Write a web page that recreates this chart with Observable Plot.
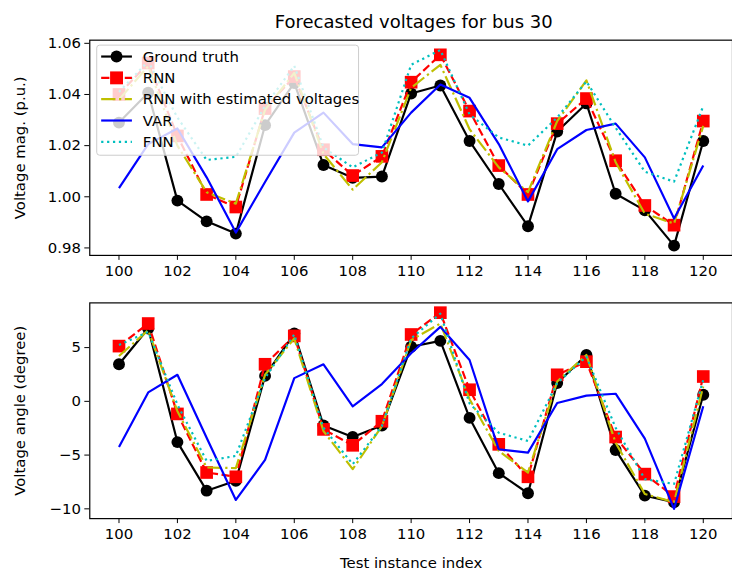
<!DOCTYPE html>
<html>
<head>
<meta charset="utf-8">
<script src="https://cdn.jsdelivr.net/npm/d3@7"></script>
<script src="https://cdn.jsdelivr.net/npm/@observablehq/plot@0.6"></script>
<style>
  html, body { margin: 0; padding: 0; background: white; }
  #wrap { position: relative; width: 732px; height: 573px; overflow: hidden; font-family: "DejaVu Sans", sans-serif; }
  #title { position: absolute; left: 90px; width: 647.5px; top: 10px; text-align: center; font-size: 18px; line-height: 24px; }
  .panel { position: absolute; left: 0; }
</style>
</head>
<body>
<div id="wrap">
  <div id="title">Forecasted voltages for bus 30</div>
</div>
<script>
// ---- data ----
const idx = [100, 101, 102, 103, 104, 105, 106, 107, 108, 109, 110, 111, 112, 113, 114, 115, 116, 117, 118, 119, 120];
const xTicks = [100, 102, 104, 106, 108, 110, 112, 114, 116, 118, 120];
const magTicks = [0.98, 1.00, 1.02, 1.04, 1.06];
const angTicks = [-10, -5, 0, 5];
const seriesNames = ["Ground truth", "RNN", "RNN with estimated voltages", "VAR", "FNN"];

const gtMag     = [1.029, 1.0407, 0.9985, 0.9904, 0.9856, 1.028, 1.0445, 1.0124, 1.0074, 1.0079, 1.0404, 1.0435, 1.0218, 1.005, 0.9885, 1.0255, 1.0365, 1.0012, 0.9947, 0.9809, 1.0218];
const rnnMag    = [1.040, 1.0523, 1.0238, 1.0009, 0.996, 1.0345, 1.047, 1.0184, 1.0083, 1.0158, 1.0448, 1.0555, 1.0335, 1.0122, 1.0009, 1.0286, 1.0384, 1.0141, 0.9966, 0.9889, 1.0296];
const rnnEstMag = [1.038, 1.051, 1.020, 1.0018, 0.9973, 1.034, 1.0484, 1.0167, 1.0028, 1.0135, 1.0426, 1.0516, 1.0264, 1.0115, 1.0018, 1.0296, 1.0455, 1.0135, 0.9934, 0.9895, 1.0277];
const varMag    = [1.0034, 1.0206, 1.0267, 1.0076, 0.986, 1.0058, 1.0251, 1.0329, 1.0206, 1.0193, 1.0329, 1.0439, 1.0387, 1.0206, 0.9982, 1.0186, 1.0261, 1.0286, 1.0154, 0.9915, 1.0122];
const fnnMag    = [1.041, 1.053, 1.031, 1.0144, 1.0156, 1.0355, 1.0512, 1.0193, 1.0115, 1.0173, 1.0516, 1.0574, 1.0322, 1.0232, 1.020, 1.031, 1.0451, 1.027, 1.0098, 1.0059, 1.0355];

const gtAng     = [3.45, 6.78, -3.79, -8.31, -7.39, 2.37, 6.31, -2.24, -3.32, -2.24, 5.08, 5.63, -1.54, -6.68, -8.55, 1.70, 4.31, -4.52, -8.77, -9.38, 0.62];
const rnnAng    = [5.14, 7.24, -1.17, -6.62, -7.02, 3.45, 6.09, -2.61, -4.09, -1.85, 6.22, 8.25, 1.08, -4.00, -7.02, 2.47, 3.69, -3.32, -6.77, -8.86, 2.31];
const rnnEstAng = [4.22, 6.62, -0.92, -6.15, -6.21, 2.47, 5.85, -2.77, -6.31, -2.31, 5.70, 7.24, 0.2, -4.62, -6.62, 1.85, 4.31, -3.85, -8.62, -9.38, 1.39];
const varAng    = [-4.25, 0.83, 2.47, -3.38, -9.17, -5.45, 2.16, 3.45, -0.46, 1.61, 4.47, 6.93, 3.85, -4.46, -4.77, -0.15, 0.53, 0.71, -3.47, -10.0, -0.46];
const fnnAng    = [5.24, 6.46, -0.3, -5.54, -5.08, 2.16, 6.22, -2.46, -5.85, -2.31, 5.85, 8.16, -0.2, -2.92, -3.69, 1.70, 4.16, -2.46, -7.23, -7.69, 2.0];

// ---- styles ----
const styles = [
  {color: "#000000", dash: null, marker: "circle"},
  {color: "#ff0000", dash: "8.3,3.6", marker: "square"},
  {color: "#bfbf00", dash: "14.4,3.6,2.25,3.6", marker: null},
  {color: "#0000ff", dash: null, marker: null},
  {color: "#00bfbf", dash: "2.25,3.7", marker: null}
];
const LW = 2.2;

function seriesMarks(valuesList) {
  const marks = [];
  valuesList.forEach((vals, i) => {
    const data = idx.map((x, j) => ({x, y: vals[j]}));
    const s = styles[i];
    marks.push(Plot.line(data, {x: "x", y: "y", stroke: s.color, strokeWidth: LW, strokeDasharray: s.dash, strokeLinejoin: "round", strokeLinecap: "butt"}));
    if (s.marker === "circle") marks.push(Plot.dot(data, {x: "x", y: "y", r: 6, fill: s.color, stroke: "none", symbol: "circle"}));
    if (s.marker === "square") marks.push(Plot.dot(data, {x: "x", y: "y", r: 7.2, fill: s.color, stroke: "none", symbol: "square"}));
  });
  return marks;
}

function panel({yDomain, yTicks, yFmt, values, ylabel, xlabel, height, mt, mb}) {
  return Plot.plot({
    width: 738, height, marginLeft: 90, marginRight: 0, marginTop: mt, marginBottom: mb,
    style: {fontFamily: "DejaVu Sans", fontSize: "15px", color: "black", background: "transparent", overflow: "visible"},
    x: {domain: [99, 121]},
    y: {domain: yDomain},
    marks: [
      Plot.axisX({ticks: xTicks, tickSize: 5, tickPadding: 5, tickFormat: d => String(d),
        label: xlabel, labelAnchor: "center", labelArrow: "none", labelOffset: 50, fontSize: 15}),
      Plot.axisY({ticks: yTicks, tickSize: 5, tickPadding: 4, tickFormat: yFmt,
        label: ylabel, labelAnchor: "center", labelArrow: "none", labelOffset: 76, fontSize: 15}),
      ...seriesMarks(values),
      Plot.frame({stroke: "black", strokeWidth: 1.2})
    ]
  });
}

const wrap = document.getElementById("wrap");

const topPanel = panel({
  yDomain: [0.97708, 1.06123], yTicks: magTicks, yFmt: d3.format(".2f"),
  values: [gtMag, rnnMag, rnnEstMag, varMag, fnnMag],
  ylabel: "Voltage mag. (p.u.)", xlabel: null, height: 290, mt: 40, mb: 33
});
topPanel.classList.add("panel");
topPanel.style.top = "0px";
wrap.appendChild(topPanel);

const bottomPanel = panel({
  yDomain: [-10.91, 9.16], yTicks: angTicks, yFmt: d3.format("d"),
  values: [gtAng, rnnAng, rnnEstAng, varAng, fnnAng],
  ylabel: "Voltage angle (degree)", xlabel: "Test instance index", height: 283, mt: 12.5, mb: 53
});
bottomPanel.classList.add("panel");
bottomPanel.style.top = "290px";
wrap.appendChild(bottomPanel);

// ---- legend (upper left of top panel) ----
const svgTop = d3.select(topPanel);
const lg = svgTop.append("g").attr("font-family", "DejaVu Sans").attr("font-size", 15).attr("text-anchor", "start");
lg.append("rect").attr("x", 97.5).attr("y", 45.5).attr("width", 264).attr("height", 111)
  .attr("rx", 3).attr("fill", "white").attr("fill-opacity", 0.8).attr("stroke", "#cccccc").attr("stroke-width", 1);
seriesNames.forEach((name, i) => {
  const s = styles[i];
  const cy = 57 + i * 21.5;
  lg.append("line").attr("x1", 102).attr("x2", 133).attr("y1", cy).attr("y2", cy)
    .attr("stroke", s.color).attr("stroke-width", LW).attr("stroke-dasharray", s.dash);
  if (s.marker === "circle") lg.append("circle").attr("cx", 117.5).attr("cy", cy).attr("r", 6).attr("fill", s.color);
  if (s.marker === "square") lg.append("rect").attr("x", 111).attr("y", cy - 6.5).attr("width", 13).attr("height", 13).attr("fill", s.color);
  lg.append("text").attr("x", 144).attr("y", cy).attr("dy", "0.35em").attr("text-anchor", "start").text(name);
});
</script>
</body>
</html>
